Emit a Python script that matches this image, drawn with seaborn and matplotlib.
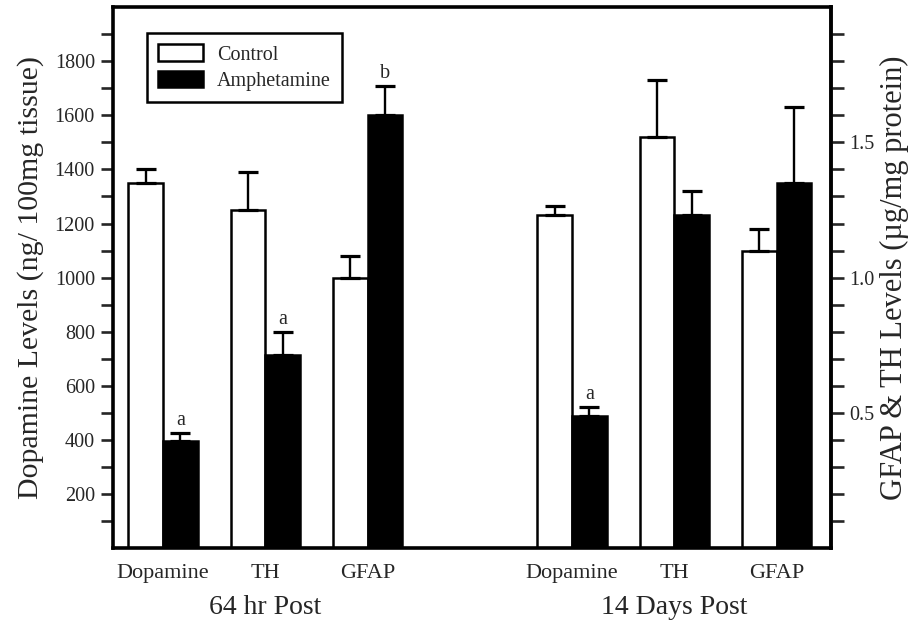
import numpy as np
import pandas as pd
import seaborn as sns
import matplotlib
matplotlib.use('Agg')
import matplotlib.pyplot as plt
from matplotlib.ticker import FixedLocator, FormatStrFormatter

# data
groups = ['64 hr Post', '14 Days Post']
measures = ['Dopamine', 'TH', 'GFAP']
positions = [0, 1, 2, 4, 5, 6]
# dopamine in ng/100mg tissue, TH and GFAP in ug/mg protein
ctrl_mean = [1350, 1.25, 1.00, 1233, 1.52, 1.10]
ctrl_err = [50, 0.14, 0.08, 33, 0.21, 0.08]
amph_mean = [395, 0.715, 1.60, 490, 1.23, 1.35]
amph_err = [30, 0.085, 0.11, 31, 0.09, 0.28]
amph_marks = ['a', 'a', 'b', 'a', '', '']
treatments = ['Control', 'Amphetamine']

# right axis = left axis / 1000, so protein values are put on the dopamine scale
scale = [1 if m == 'Dopamine' else 1000 for m in measures * 2]

rows = []
for t, means, errs in [('Control', ctrl_mean, ctrl_err), ('Amphetamine', amph_mean, amph_err)]:
    for p, m, e, s in zip(positions, means, errs, scale):
        rows.append({'pos': p, 'treatment': t, 'value': m * s, 'err': e * s})
df = pd.DataFrame(rows)

sns.set_style('white')
plt.rcParams['font.family'] = ['Liberation Serif', 'DejaVu Serif']

fig = plt.figure(figsize=(9.11, 6.23), dpi=100)
ax = fig.add_axes([0.124, 0.1204, 0.788, 0.868])

sns.barplot(data=df, x='pos', y='value', hue='treatment', hue_order=treatments,
            palette={'Control': 'white', 'Amphetamine': 'black'},
            native_scale=True, width=0.68, gap=0, errorbar=None,
            edgecolor='black', linewidth=1.8, saturation=1, ax=ax, legend=False)
bar_conts = list(ax.containers)

# upward-only error bars taken from the bar geometry
for cont, t in zip(bar_conts, treatments):
    sub = df[df.treatment == t].sort_values('pos')
    xs = [b.get_x() + b.get_width() / 2 for b in cont.patches]
    tops = [b.get_height() for b in cont.patches]
    ax.errorbar(xs, tops, yerr=[np.zeros(len(xs)), sub['err'].values], fmt='none',
                ecolor='black', elinewidth=1.7, capsize=7.5, capthick=2.3, zorder=1)
    if t == 'Amphetamine':
        for x, y, e, mk in zip(xs, tops, sub['err'].values, amph_marks):
            if mk:
                ax.annotate(mk, (x, y + e), xytext=(0, 2), textcoords='offset points',
                            ha='center', va='bottom', fontsize=14.5)

ax.set_xlim(-0.49, 6.53)
ax.set_ylim(0, 2000)
ax.yaxis.set_major_locator(FixedLocator(np.arange(200, 1801, 200)))
ax.yaxis.set_minor_locator(FixedLocator(np.arange(100, 1901, 200)))
ax.tick_params(axis='y', which='both', direction='out', length=9, width=1.9,
               labelsize=14.5, left=True, pad=4)
ax.set_ylabel('Dopamine Levels (ng/ 100mg tissue)', fontsize=21.5, labelpad=8)

ax.set_xticks(positions)
ax.set_xticklabels(measures * 2, fontsize=16)
ax.tick_params(axis='x', length=0, pad=11.5)
ax.set_xlabel('')

for i, g in enumerate(groups):
    xc = np.mean(positions[i * 3:(i + 1) * 3])
    ax.annotate(g, (xc, 0), xycoords=('data', 'axes fraction'), xytext=(0, -43),
                textcoords='offset points', ha='center', va='center', fontsize=20)

sec = ax.secondary_yaxis('right', functions=(lambda y: y / 1000, lambda y: y * 1000))
sec.yaxis.set_major_locator(FixedLocator([0.5, 1.0, 1.5]))
sec.yaxis.set_minor_locator(FixedLocator(np.round(np.arange(0.1, 2.0, 0.1), 1)))
sec.yaxis.set_major_formatter(FormatStrFormatter('%.1f'))
sec.tick_params(axis='y', which='both', direction='out', length=9, width=1.9,
                labelsize=14.5, right=True, pad=4)
sec.set_ylabel('GFAP & TH Levels (\u00b5g/mg protein)', fontsize=22, labelpad=4)
sec.spines['right'].set_linewidth(2.6)

for sp in ax.spines.values():
    sp.set_visible(True)
    sp.set_linewidth(2.6)
    sp.set_color('black')

handles = [c.patches[0] for c in bar_conts]
leg = ax.legend(handles, treatments, loc='upper left', bbox_to_anchor=(0.048, 0.952),
                fontsize=14.5, frameon=True, fancybox=False, framealpha=1,
                edgecolor='black', handlelength=2.2, handleheight=0.9,
                borderpad=0.55, labelspacing=0.3, handletextpad=0.7, borderaxespad=0)
leg.get_frame().set_linewidth(1.8)

plt.savefig('out.png', dpi=100)
